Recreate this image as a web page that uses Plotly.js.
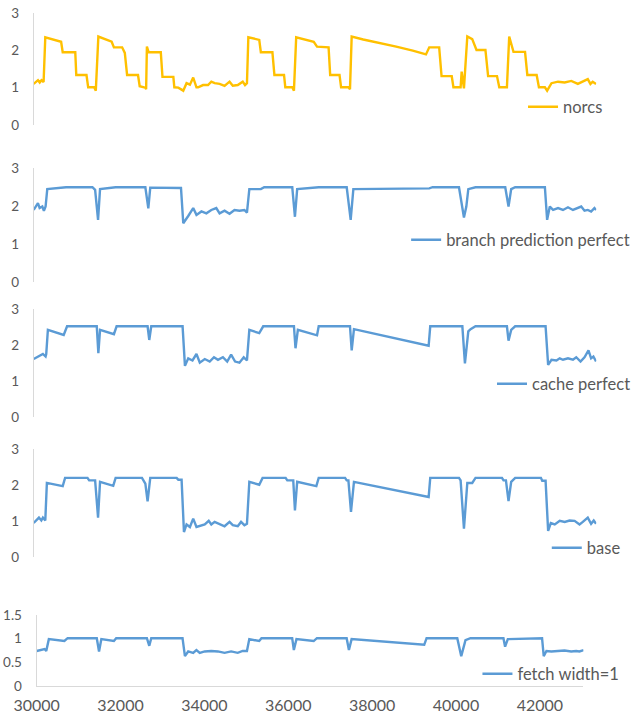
<!DOCTYPE html>
<html>
<head>
<meta charset="utf-8">
<script src="https://cdn.plot.ly/plotly-3.0.1.min.js"></script>
<style>html,body{margin:0;padding:0;background:#fff;}#chart{width:636px;height:717px;}</style>
</head>
<body>
<div id="chart"></div>
<script>
// ---------- data ----------
const seriesNames = ["norcs", "branch prediction perfect", "cache perfect", "base", "fetch width=1"];

const norcsX = [30000,30050,30100,30140,30180,30230,30269,30636,30673,30964,30987,31224,31263,31401,31440,
  31499,31807,31860,32050,32112,32165,32418,32457,32588,32606,
  32624,32663,32946,32985,33237,33260,33352,33467,33543,33621,33697,33773,
  33811,33926,34041,34117,34194,34309,34424,34539,34615,34730,34845,34898,34943,
  34975,35228,35265,35533,35579,35802,35832,35993,36032,
  36084,36491,36567,36835,36872,37088,37125,37294,37331,
  37370,37638,38020,38403,38786,39092,
  39168,39398,39453,39689,39728,39895,39919,39972,
  40050,40164,40263,40470,40532,40738,40791,40968,
  41021,41120,41388,41441,41657,41710,41848,41900,
  42001,42153,42307,42460,42612,42766,42842,42904,42956,43034];
const norcsY = [1.10,1.15,1.20,1.14,1.20,1.15,2.35,2.23,1.95,1.95,1.34,1.34,1.01,1.01,0.92,
  2.37,2.23,2.08,2.08,1.93,1.34,1.34,1.04,1.00,0.96,
  2.10,1.95,1.95,1.29,1.29,1.01,1.00,0.92,1.12,1.08,1.27,1.01,
  1.01,1.07,1.07,1.16,1.12,1.10,1.05,1.16,1.05,1.07,1.16,1.07,1.12,
  2.35,2.28,1.95,1.95,1.34,1.34,1.01,1.01,0.92,
  2.35,2.23,2.10,2.08,1.34,1.34,1.01,1.01,0.96,
  2.37,2.29,2.20,2.10,1.99,1.89,
  2.08,2.08,1.31,1.31,1.01,1.01,1.43,0.98,
  2.37,2.30,2.01,2.01,1.31,1.31,1.01,1.01,
  2.37,1.96,1.96,1.34,1.34,1.01,1.01,0.92,
  1.12,1.16,1.14,1.18,1.10,1.18,1.23,1.10,1.16,1.10];

const branchX = [30000,30099,30138,30200,30237,30276,30315,30751,31362,31424,
  31492,31538,31899,32588,32657,32702,33414,
  33467,33582,33697,33773,33888,34002,34117,34232,34309,34424,34539,34654,34769,34884,34943,
  34998,35265,35343,35993,36055,36107,36606,37255,37347,37409,39168,39246,39857,
  39935,39972,40027,40073,40240,40929,41005,41067,41159,41848,
  41900,41962,42038,42153,42268,42383,42498,42612,42690,42766,42842,42919,42996,43034];
const branchY = [1.90,2.08,1.95,1.99,1.88,1.99,2.45,2.50,2.50,2.43,
  1.64,2.45,2.50,2.50,1.94,2.49,2.48,
  1.55,1.74,1.95,1.77,1.86,1.81,1.90,1.95,1.81,1.88,1.80,1.90,1.88,1.90,1.83,
  2.45,2.45,2.50,2.50,1.72,2.45,2.50,2.50,1.64,2.45,2.47,2.50,2.50,
  1.99,1.70,1.99,2.45,2.50,2.50,1.99,2.45,2.50,2.50,
  1.64,1.99,1.90,1.95,1.90,1.97,1.90,1.95,1.99,1.88,1.90,1.86,1.95,1.90];

const cacheX = [30000,30138,30214,30276,30291,30329,30696,30774,31462,
  31499,31538,31860,31922,32640,32679,32725,33451,
  33506,33582,33681,33773,33850,33965,34080,34179,34271,34385,34485,34576,34668,34769,34868,34943,
  34998,35228,35320,36032,36068,36123,36567,36606,37331,
  37370,37423,39154,
  39191,39935,39995,40073,40126,40240,40968,41005,41067,41159,41864,
  41923,42001,42116,42192,42268,42383,42498,42575,42674,42766,42858,42919,42972,43034];
const cacheY = [1.61,1.70,1.75,1.68,1.75,2.42,2.28,2.52,2.52,
  1.77,2.42,2.30,2.52,2.52,2.14,2.52,2.52,
  1.42,1.63,1.57,1.75,1.51,1.61,1.54,1.66,1.59,1.66,1.54,1.73,1.54,1.51,1.66,1.57,
  2.42,2.33,2.52,2.52,1.91,2.42,2.27,2.52,2.52,
  1.85,2.44,1.98,
  2.52,2.52,1.49,2.38,2.44,2.52,2.52,2.12,2.42,2.52,2.52,
  1.45,1.59,1.57,1.63,1.59,1.63,1.59,1.66,1.54,1.66,1.85,1.63,1.68,1.54];

const baseX = [30000,30062,30122,30177,30214,30269,30306,30673,30728,31247,31286,31424,
  31492,31538,31844,31899,32510,32588,32640,32702,33313,33352,33428,
  33483,33543,33621,33697,33773,33850,33965,34057,34117,34194,34309,34424,34539,34615,34730,34806,34884,34943,
  34998,35228,35305,35839,35878,36016,36055,36107,36551,36606,37217,37255,37294,
  37354,37423,39154,
  39191,39857,39895,39972,40050,40164,40240,40853,40890,40945,
  41005,41067,41159,41756,41786,41864,
  41923,41985,42077,42192,42307,42421,42536,42651,42727,42842,42919,42980,43034];
const baseY = [0.95,1.04,1.10,1.02,1.10,1.02,2.06,1.97,2.20,2.20,2.13,2.13,
  1.10,2.09,1.98,2.20,2.20,2.04,1.55,2.20,2.20,2.15,2.15,
  0.70,0.91,0.84,1.07,0.84,0.86,0.91,1.01,0.91,0.98,0.91,0.86,0.98,0.89,0.86,0.98,0.89,0.93,
  2.09,2.01,2.20,2.20,2.13,2.13,1.30,2.09,1.97,2.20,2.20,2.13,2.13,
  1.26,2.09,1.67,
  2.20,2.20,2.13,0.79,2.06,2.06,2.20,2.20,2.13,2.13,
  1.56,2.09,2.20,2.20,2.12,2.12,
  0.73,0.95,0.91,1.01,0.98,1.02,1.01,0.91,0.98,1.10,0.93,1.02,0.93];

const fetchX = [30000,30071,30189,30229,30291,30661,30739,31434,
  31488,31543,31842,31897,32629,32686,32733,33479,
  33536,33614,33732,33810,33890,34008,34164,34322,34481,34637,34795,34913,35015,
  35071,35307,35362,36094,36134,36196,36607,36684,37393,
  37447,37511,39243,39299,40031,40126,40227,40346,41132,41172,41236,42053,
  42093,42157,42275,42431,42589,42748,42866,42944,43022,43046];
const fetchY = [0.74,0.76,0.78,0.74,0.99,0.95,1.01,1.01,
  0.73,0.99,0.95,1.01,1.01,0.85,1.01,1.01,
  0.63,0.73,0.70,0.76,0.70,0.73,0.74,0.73,0.70,0.73,0.70,0.74,0.74,
  0.99,0.95,1.01,1.01,0.76,0.99,0.95,1.01,1.01,
  0.76,0.99,0.87,1.01,1.01,0.63,0.97,1.01,1.01,0.83,0.99,1.01,
  0.63,0.74,0.73,0.74,0.75,0.73,0.74,0.73,0.76,0.76];

const xTickVals = [30000,32000,34000,36000,38000,40000,42000];
const yTicks3 = [0,1,2,3];
const yTicksFetch = [0,0.5,1,1.5];
const yTickTextFetch = ["0","0.5","1","1.5"];

// ---------- layout helpers ----------
const W = 636, H = 717;
const fx = p => p / W;
const fy = p => 1 - p / H;
const TXT = '#595959', AX = '#D9D9D9';
const FONT = 'Lato, "Open Sans", sans-serif';
const YELLOW = '#FFC000', BLUE = '#5B9BD5';

const xs = [norcsX, branchX, cacheX, baseX, fetchX];
const ys = [norcsY, branchY, cacheY, baseY, fetchY];
const colors = [YELLOW, BLUE, BLUE, BLUE, BLUE];
const legendIds = ['legend','legend2','legend3','legend4','legend5'];

const traces = xs.map((xv, i) => ({
  type: 'scatter', mode: 'lines',
  x: xv, y: ys[i], name: seriesNames[i],
  xaxis: i === 0 ? 'x' : 'x' + (i + 1),
  yaxis: i === 0 ? 'y' : 'y' + (i + 1),
  line: {color: colors[i], width: 2.4},
  legend: legendIds[i], showlegend: true,
  hoverinfo: 'x+y'
}));

// pixel geometry of each panel: [yTopPx, yZeroPx]
const panelY = [[13,125],[168.3,281.9],[309,417],[449,557.3],[615,686]];
const topXDom = [fx(34), fx(602)];
const botXDom = [fx(37), fx(589)];
const XRANGE = [30000, 43040];

const layout = {
  width: W, height: H,
  margin: {l:0, r:0, t:0, b:0},
  paper_bgcolor: '#fff', plot_bgcolor: '#fff',
  font: {family: FONT, color: TXT},
  hovermode: false
};

for (let i = 0; i < 5; i++) {
  const k = i === 0 ? '' : String(i + 1);
  const isBottom = i === 4;
  layout['xaxis' + k] = isBottom ? {
    domain: botXDom, range: XRANGE, anchor: 'y5',
    showline: true, linecolor: AX, linewidth: 1, showgrid: false, zeroline: false,
    ticks: '', tickvals: xTickVals, tickformat: 'd',
    tickfont: {family: FONT, size: 16, color: TXT}, ticklabelstandoff: 5
  } : {
    domain: topXDom, range: XRANGE, anchor: 'y' + k, visible: false,
    showgrid: false, zeroline: false
  };
  layout['yaxis' + k] = {
    domain: [fy(panelY[i][1]), fy(panelY[i][0])],
    range: isBottom ? [0, 1.5] : [0, 3],
    anchor: 'x' + k,
    showline: true, linecolor: AX, linewidth: 1, showgrid: false, zeroline: false,
    ticks: '',
    tickvals: isBottom ? yTicksFetch : yTicks3,
    ticktext: isBottom ? yTickTextFetch : yTicks3.map(String),
    tickfont: {family: FONT, size: 13.5, color: TXT}, ticklabelstandoff: 11
  };
}

// legends: [text start px, center y px]
const legPos = [[568,107],[450,240],[537,384],[592,548],[522,674]];
legendIds.forEach((id, i) => {
  layout[id] = {
    x: fx(legPos[i][0] - 40), y: fy(legPos[i][1]),
    xanchor: 'left', yanchor: 'middle',
    bgcolor: 'rgba(0,0,0,0)', borderwidth: 0,
    font: {family: FONT, size: 16.5, color: TXT},
    itemwidth: 30
  };
});

Plotly.newPlot('chart', traces, layout, {displayModeBar: false, staticPlot: true});
</script>
</body>
</html>
